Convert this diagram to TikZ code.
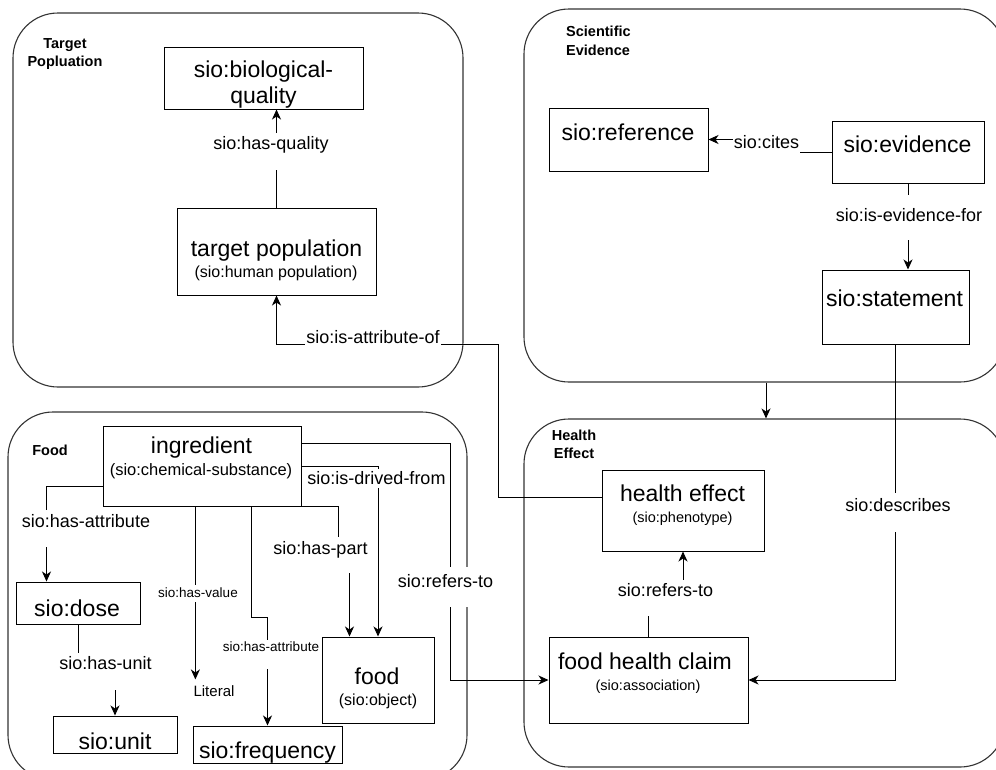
\documentclass[tikz,border=0pt]{standalone}
\usepackage{fontspec}
\setmainfont{Liberation Sans}
\usetikzlibrary{arrows.meta,calc}
\begin{document}
\begin{tikzpicture}[x=1pt,y=-1pt,
  grp/.style={draw=black!80, line width=1.1pt, rounded corners=45pt, inner sep=0pt},
  box/.style={draw=black, line width=1pt, inner sep=0pt},
  conn/.style={draw=black, line width=1pt},
  arr/.style={conn, -{Stealth[length=10pt,width=9pt,inset=3pt]}},
  bigt/.style={font=\fontsize{23pt}{27pt}\selectfont, inner sep=0pt, anchor=base},
  subt/.style={font=\fontsize{16pt}{19pt}\selectfont, inner sep=0pt, anchor=base},
  smt/.style={font=\fontsize{14.5pt}{17pt}\selectfont, inner sep=0pt, anchor=base},
  gtitle/.style={font=\bfseries\fontsize{14.5pt}{18pt}\selectfont, inner sep=0pt, anchor=base},
  elabel/.style={font=\fontsize{18pt}{21pt}\selectfont, fill=white, inner xsep=1pt, inner ysep=0pt, anchor=base},
  slabel/.style={font=\fontsize{13.5pt}{16pt}\selectfont, fill=white, inner xsep=1pt, inner ysep=0pt, anchor=base},
]
\useasboundingbox (0,0) rectangle (996,769);
\fill[white] (0,0) rectangle (996,769);

% ---------- groups ----------
\node[grp, minimum width=450pt, minimum height=374pt] (tpg) at (238,200) {};
\node[grp, minimum width=481pt, minimum height=373pt] (seg) at (764.5,195.5) {};
\node[grp, minimum width=459pt, minimum height=368pt] (fdg) at (237.5,596) {};
\node[grp, minimum width=481pt, minimum height=348pt] (heg) at (764.5,593) {};

\node[gtitle] (tpg-t1) at (65,48.5) {Target};
\node[gtitle] (tpg-t2) at (65,66) {Popluation};
\node[gtitle, anchor=base west] (seg-t1) at (566,36) {Scientific};
\node[gtitle, anchor=base west] (seg-t2) at (566,55) {Evidence};
\node[gtitle] (fdg-t) at (50,455) {Food};
\node[gtitle] (heg-t1) at (574,440) {Health};
\node[gtitle] (heg-t2) at (574,458) {Effect};

% ---------- boxes ----------
\node[box, minimum width=199pt, minimum height=62pt] (bq) at (263.5,78) {};
\node[box, minimum width=199pt, minimum height=87pt] (tp) at (276.5,251.5) {};
\node[box, minimum width=159pt, minimum height=63pt] (ref) at (628.5,139.5) {};
\node[box, minimum width=152pt, minimum height=62pt] (ev) at (908,152) {};
\node[box, minimum width=147pt, minimum height=74pt] (st) at (895.5,307) {};
\node[box, minimum width=162pt, minimum height=81pt] (he) at (683,510.5) {};
\node[box, minimum width=199pt, minimum height=86pt] (claim) at (648.5,680) {};
\node[box, minimum width=198pt, minimum height=80pt] (ing) at (202,466) {};
\node[box, minimum width=124pt, minimum height=42pt] (dose) at (78,603) {};
\node[box, minimum width=124pt, minimum height=37pt] (unit) at (115,734.5) {};
\node[box, minimum width=149pt, minimum height=37pt] (freq) at (267.5,744.5) {};
\node[box, minimum width=112pt, minimum height=86pt] (food) at (378,680) {};
\node[font=\fontsize{15pt}{18pt}\selectfont, inner xsep=0pt, inner ysep=6pt, anchor=base] (lit) at (214,696.5) {Literal};

% ---------- box texts ----------
\node[bigt] (bq-t1) at (263.5,77.5) {sio:biological-};
\node[bigt] (bq-t2) at (263.5,103) {quality};
\node[bigt] (tp-t1) at (276.5,256.5) {target population};
\node[subt] (tp-t2) at (276,277) {(sio:human population)};
\node[bigt] (ref-t) at (628,140) {sio:reference};
\node[bigt] (ev-t) at (907.5,152.5) {sio:evidence};
\node[bigt] (st-t) at (894.5,306.5) {sio:statement};
\node[bigt] (he-t1) at (682.5,501.5) {health effect};
\node[smt] (he-t2) at (682.5,522.3) {(sio:phenotype)};
\node[bigt] (claim-t1) at (645,669.5) {food health claim};
\node[smt] (claim-t2) at (648,690.6) {(sio:association)};
\node[bigt] (ing-t1) at (201.5,453) {ingredient};
\node[subt, font=\fontsize{16.5pt}{19pt}\selectfont] (ing-t2) at (201,475) {(sio:chemical-substance)};
\node[bigt] (dose-t) at (77,616.5) {sio:dose};
\node[bigt] (unit-t) at (115,749) {sio:unit};
\node[bigt] (freq-t) at (267.5,758) {sio:frequency};
\node[bigt] (food-t1) at (377,684.5) {food};
\node[subt] (food-t2) at (378,705) {(sio:object)};

% ---------- connectors ----------
\draw[arr] (tp.north) -- (tp.north |- bq.south);
\draw[arr] ([yshift=13.5pt]he.west) -- ++(-103,0) |- ($(tp.south)+(0,49)$) -- (tp.south);
\draw[arr] (ev.west) -- (766,152) |- (ref.east);
\draw[arr] (ev.south) -- (ev.south |- st.north);
\draw[arr] (st.south) |- (claim.east);
\draw[arr] ([xshift=1.5pt]seg.south) -- ([xshift=1.5pt]heg.north);
\draw[arr] (claim.north) -- ++(0,-40) -| (he.south);

\draw[arr] ([yshift=20pt]ing.south west) -| ([xshift=31pt]dose.north west);
\draw[arr] (dose.south) -- ++(0,46) -| (unit.north);
\coordinate (litin) at ([xshift=2pt]lit.north west);
\draw[arr] (ing.south -| litin) -- (litin);
\draw[arr] ($(ing.south west)+(149,0)$) -- ++(0,111) -| (freq.north);
\draw[arr] (ing.south east) -- ++(37,0) -- ++(0,49) -| ([xshift=28pt]food.north west);
\draw[arr] (ing.east) -| (food.north);
\draw[arr] ([yshift=-18pt]ing.north east) -- ++(149,0) |- (claim.west);

% ---------- connector labels ----------
\node[elabel, text height=16pt, text depth=21pt] (l-hq) at (271,149) {sio:has-quality};
\node[elabel, text height=14pt, text depth=4pt] (l-ia) at (373,343) {sio:is-attribute-of};
\node[elabel, text height=13pt, text depth=5pt] (l-ci) at (766.5,148) {sio:cites};
\node[elabel, text height=26pt, text depth=19pt] (l-ef) at (909,221) {sio:is-evidence-for};
\node[elabel, text height=18pt, text depth=21pt] (l-de) at (898,511) {sio:describes};
\node[elabel, text height=16pt, text depth=20pt] (l-r1) at (665.5,596) {sio:refers-to};
\node[elabel, text height=17pt, text depth=20pt] (l-ha) at (86,527) {sio:has-attribute};
\node[elabel, text height=16pt, text depth=21pt] (l-hu) at (105.5,669) {sio:has-unit};
\node[slabel, text height=12pt, text depth=5pt] (l-hv) at (198,597) {sio:has-value};
\node[slabel, text height=11pt, text depth=18pt] (l-ha2) at (271,651) {sio:has-attribute};
\node[elabel, text height=17pt, text depth=19pt] (l-hp) at (320.5,554) {sio:has-part};
\node[elabel, text height=15pt, text depth=4pt] (l-df) at (376.5,484) {sio:is-drived-from};
\node[elabel, text height=20pt, text depth=20pt] (l-r2) at (445.5,587) {sio:refers-to};
\end{tikzpicture}
\end{document}
